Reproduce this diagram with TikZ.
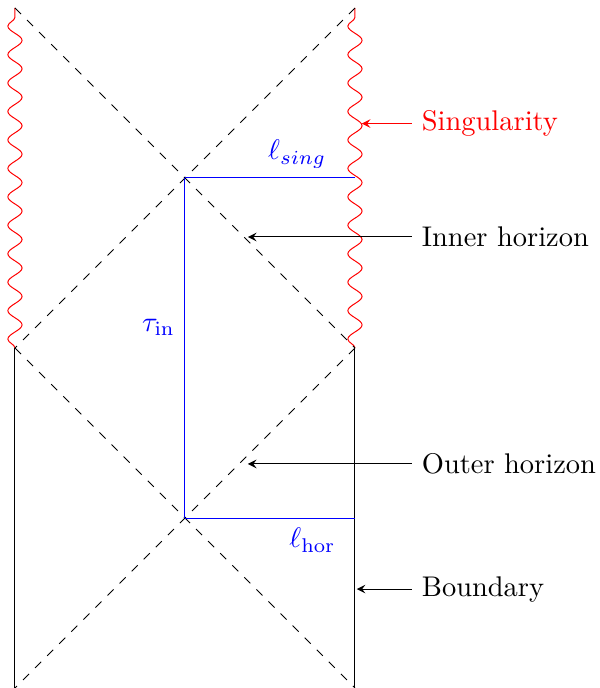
\documentclass[tikz,border=0pt]{standalone}
\usetikzlibrary{decorations.pathmorphing,arrows}
\begin{document}
\begin{tikzpicture}[x=2.1cm,y=2.1cm,>=stealth,line width=0.35pt]
\tikzset{horizon/.style={dashed},
         singular/.style={red,decorate,decoration=snake},
         len/.style={blue}}
\useasboundingbox (-0.088,-2) rectangle (3.44,2.047);

% corners of the diagram and the two crossing points
\coordinate (bl) at (0,-2); \coordinate (br) at (2,-2);
\coordinate (ml) at (0,0);  \coordinate (mr) at (2,0);
\coordinate (tl) at (0,2);  \coordinate (tr) at (2,2);
\coordinate (up) at (1,1);  \coordinate (dn) at (1,-1);
\coordinate (upr) at (2,1); \coordinate (dnr) at (2,-1);

% boundary below, singularity above
\draw (bl) -- (ml);
\draw (br) -- (mr);
\draw[singular] (ml) -- (tl);
\draw[singular] (mr) -- (tr);

% horizons
\draw[horizon] (tl) -- (mr);
\draw[horizon] (tr) -- (ml);
\draw[horizon] (ml) -- (br);
\draw[horizon] (mr) -- (bl);

% lengths
\draw[len] (up) -- node[pos=0.66,above] (lsing) {$\ell_{sing}$} (upr);
\draw[len] (up) -- node[pos=0.44,left] (tauin) {$\tau_{\mathrm{in}}$} (dn);
\draw[len] (dn) -- node[pos=0.75,below] (lhor) {$\ell_{\mathrm{hor}}$} (dnr);

% labels with arrows
\foreach \name/\y/\x/\lab/\col in {sing/1.32/2.04/Singularity/red,
    inner/0.653/1.37/Inner horizon/black,
    outer/-0.682/1.37/Outer horizon/black,
    bdry/-1.418/2.01/Boundary/black}
{
    \node[right,text=\col] (\name) at (2.335,\y) {\lab};
    \coordinate (\name tip) at (\x,\y);
    \draw[->,\col] (\name) -- (\name tip);
}
\end{tikzpicture}
\end{document}
